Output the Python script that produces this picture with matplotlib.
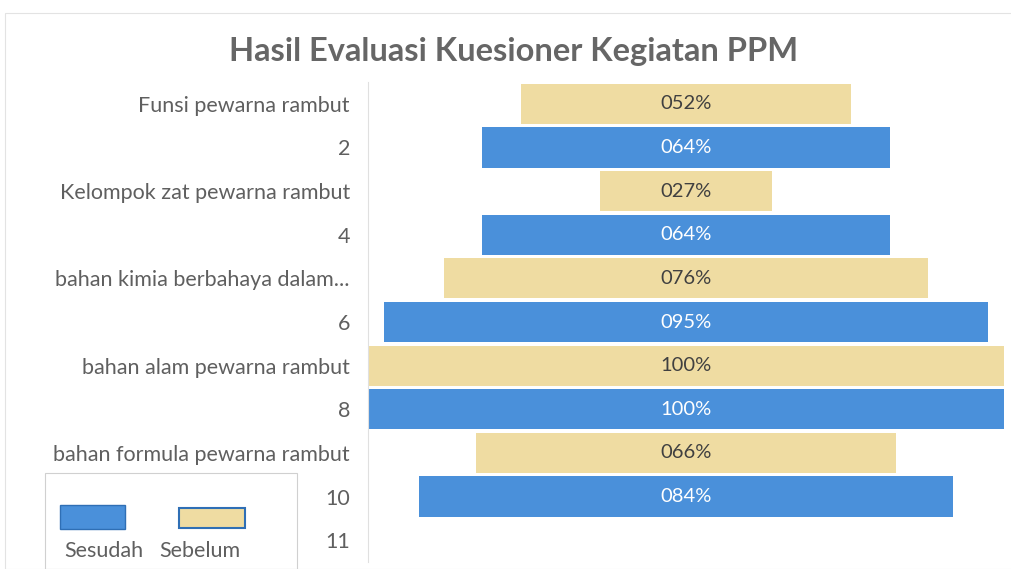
import matplotlib
matplotlib.use("Agg")
import matplotlib.pyplot as plt
from matplotlib.patches import Rectangle

title = "Hasil Evaluasi Kuesioner Kegiatan PPM"
row_labels = ["Funsi pewarna rambut", "2", "Kelompok zat pewarna rambut", "4",
              "bahan kimia berbahaya dalam...", "6", "bahan alam pewarna rambut", "8",
              "bahan formula pewarna rambut", "10", "11"]
sebelum_rows = [0, 2, 4, 6, 8]
sebelum_vals = [52, 27, 76, 100, 66]
sesudah_rows = [1, 3, 5, 7, 9]
sesudah_vals = [64, 64, 95, 100, 84]

BLUE = "#4a90da"
TAN = "#efdca2"
GRAY = "#5f5f5f"
FONT = "Lato"

fig = plt.figure(figsize=(10.12, 5.69), dpi=100)
ax = fig.add_axes([368/1012, 1-562/569, 636/1012, 480/569])

ax.barh(sebelum_rows, sebelum_vals, left=[-v/2 for v in sebelum_vals], height=0.92, color=TAN)
ax.barh(sesudah_rows, sesudah_vals, left=[-v/2 for v in sesudah_vals], height=0.92, color=BLUE)
for r, v in zip(sebelum_rows, sebelum_vals):
    ax.text(0, r, f"{v:03d}%", ha="center", va="center", color="#404040", fontsize=14.5, family=FONT)
for r, v in zip(sesudah_rows, sesudah_vals):
    ax.text(0, r, f"{v:03d}%", ha="center", va="center", color="white", fontsize=14.5, family=FONT)

ax.set_xlim(-50, 50)
ax.set_ylim(len(row_labels)-0.5, -0.5)
ax.set_yticks(range(len(row_labels)))
ax.set_yticklabels(row_labels, color=GRAY, fontsize=15.5, family=FONT)
ax.tick_params(axis="y", length=0, pad=13)
ax.set_xticks([])
for s in ["top", "right", "bottom"]:
    ax.spines[s].set_visible(False)
ax.spines["left"].set_color("#e0e0e0")
ax.spines["left"].set_linewidth(0.8)

fig.text(514/1012, 1-51/569, title, ha="center", va="center", fontsize=23.5,
         color="#666666", family=FONT, fontweight="bold")

# chart frame
fig.patches.append(Rectangle((5/1012, 0), 1.1, 1-13/569, transform=fig.transFigure,
                             fill=False, edgecolor="#e3e3e3", linewidth=0.8))

# legend
fig.patches.append(Rectangle((45/1012, 0), 252/1012, 1-473/569, transform=fig.transFigure,
                             fill=False, edgecolor="#d0d0d0", linewidth=0.8))
fig.patches.append(Rectangle((60/1012, 1-529/569), 65/1012, 24/569, transform=fig.transFigure,
                             facecolor=BLUE, edgecolor="#2f6fb5", linewidth=1))
fig.patches.append(Rectangle((179/1012, 1-528/569), 66/1012, 20/569, transform=fig.transFigure,
                             facecolor=TAN, edgecolor="#2f6fb5", linewidth=1.5))
fig.text(104/1012, 1-551/569, "Sesudah", ha="center", va="center", fontsize=15.5,
         color=GRAY, family=FONT)
fig.text(200/1012, 1-551/569, "Sebelum", ha="center", va="center", fontsize=15.5,
         color=GRAY, family=FONT)

fig.savefig("out.png", dpi=100)
